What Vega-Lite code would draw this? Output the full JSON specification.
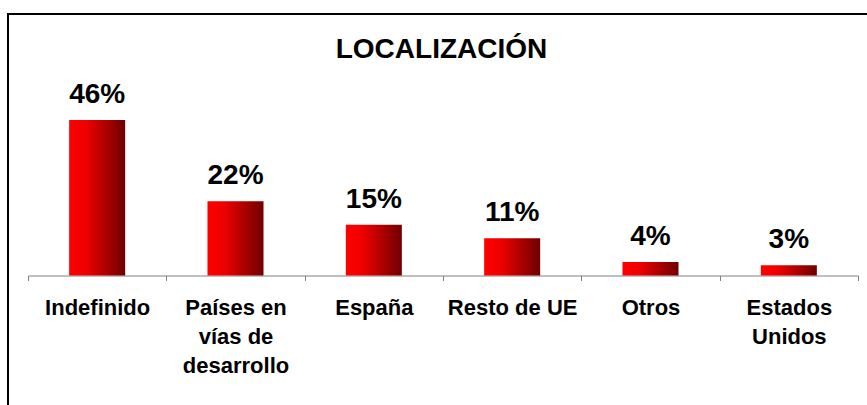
{
  "$schema": "https://vega.github.io/schema/vega-lite/v6.json",
  "width": 859,
  "height": 391,
  "autosize": {"type": "none"},
  "padding": {"left": 8, "top": 14, "right": 0, "bottom": 0},
  "background": "white",
  "title": {
    "text": "LOCALIZACIÓN",
    "font": "Liberation Sans",
    "fontSize": 28,
    "fontWeight": "bold",
    "color": "black",
    "anchor": "middle",
    "frame": "group",
    "baseline": "alphabetic",
    "offset": 0,
    "dy": 72,
    "dx": 4
  },
  "data": {
    "values": [
      {"cat": "Indefinido", "value": 0.46},
      {"cat": "Países en\nvías de\ndesarrollo", "value": 0.22},
      {"cat": "España", "value": 0.15},
      {"cat": "Resto de UE", "value": 0.11},
      {"cat": "Otros", "value": 0.04},
      {"cat": "Estados\nUnidos", "value": 0.03}
    ]
  },
  "encoding": {
    "x": {
      "field": "cat",
      "type": "nominal",
      "sort": null,
      "scale": {"range": [20, 850], "paddingInner": 0, "paddingOuter": 0},
      "axis": {
        "title": null,
        "labelAngle": 0,
        "grid": false,
        "domainColor": "#808080",
        "tickColor": "#808080",
        "tickSize": 5,
        "tickBand": "extent",
        "labelFont": "Liberation Sans",
        "labelFontSize": 22,
        "labelFontWeight": "bold",
        "labelColor": "black",
        "labelPadding": 17,
        "labelLimit": 0,
        "labelLineHeight": 29,
        "labelExpr": "split(datum.label, '\\n')",
        "offset": -129.5
      }
    },
    "y": {
      "field": "value",
      "type": "quantitative",
      "scale": {"domain": [0, 0.5], "range": [261.5, 92.5], "nice": false, "zero": true},
      "axis": null
    }
  },
  "layer": [
    {
      "mark": {
        "type": "bar",
        "width": {"band": 0.405},
        "color": {
          "gradient": "linear",
          "x1": 0, "y1": 0, "x2": 1, "y2": 0,
          "stops": [
            {"offset": 0, "color": "#ff0000"},
            {"offset": 0.3, "color": "#ee0000"},
            {"offset": 1, "color": "#6e0000"}
          ]
        }
      }
    },
    {
      "mark": {
        "type": "text",
        "dy": -17,
        "baseline": "alphabetic",
        "font": "Liberation Sans",
        "fontSize": 28,
        "fontWeight": "bold",
        "color": "black"
      },
      "encoding": {
        "text": {"field": "value", "type": "quantitative", "format": ".0%"}
      }
    }
  ],
  "config": {
    "view": {"stroke": "#000000", "strokeWidth": 2, "strokeDash": [859, 1250, 391]}
  }
}
